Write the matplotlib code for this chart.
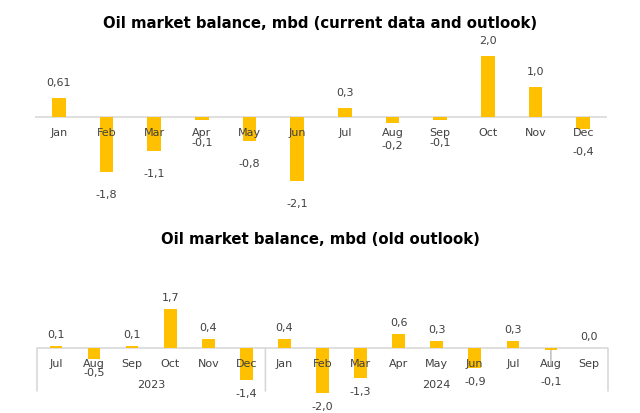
import numpy as np
import matplotlib
matplotlib.use('Agg')
import matplotlib.pyplot as plt

plt.rcParams['font.family'] = ['DejaVu Sans']

# --------- data

top_title = 'Oil market balance, mbd (current data and outlook)'
top_months = ['Jan', 'Feb', 'Mar', 'Apr', 'May', 'Jun', 'Jul', 'Aug', 'Sep', 'Oct', 'Nov', 'Dec']
top_values = [0.61, -1.8, -1.1, -0.1, -0.8, -2.1, 0.3, -0.2, -0.1, 2.0, 1.0, -0.4]
top_labels = ['0,61', '-1,8', '-1,1', '-0,1', '-0,8', '-2,1', '0,3', '-0,2', '-0,1', '2,0', '1,0', '-0,4']

bot_title = 'Oil market balance, mbd (old outlook)'
bot_months = ['Jul', 'Aug', 'Sep', 'Oct', 'Nov', 'Dec',
              'Jan', 'Feb', 'Mar', 'Apr', 'May', 'Jun', 'Jul', 'Aug', 'Sep']
bot_values = [0.1, -0.5, 0.1, 1.7, 0.4, -1.4, 0.4, -2.0, -1.3, 0.6, 0.3, -0.9, 0.3, -0.1, 0.0]
bot_labels = ['0,1', '-0,5', '0,1', '1,7', '0,4', '-1,4', '0,4', '-2,0', '-1,3', '0,6', '0,3', '-0,9', '0,3', '-0,1', '0,0']
years = ['2023', '2024']
year_counts = [6, 9]

# --------- style
bar_color = '#FFC000'
axis_color = '#D9D9D9'
text_color = '#404040'
W, H = 640, 414
PX = 72 / 100  # points per pixel at dpi 100


def px_axes(left, top, right, bottom):
    return [left / W, 1 - bottom / H, (right - left) / W, (bottom - top) / H]


def draw_bars(ax, months, values, labels, width, up_off, down_off, special=None):
    x = np.arange(len(months))
    ax.bar(x, values, width=width, color=bar_color, zorder=2)
    ax.axhline(0, color=axis_color, linewidth=1.2, zorder=1)
    for i, (m, v, lab) in enumerate(zip(months, values, labels)):
        ax.annotate(m, (i, 0), xytext=(0, -15 * PX), textcoords='offset points',
                    ha='center', va='center', fontsize=8, color=text_color, zorder=3)
        if special is not None and i in special:
            # label pushed down with a small leader line
            off = -special[i]
            ax.annotate(lab, (i, v), xytext=(0, off * PX), textcoords='offset points',
                        ha='center', va='center', fontsize=8, color=text_color, zorder=3)
            ax.annotate('', (i, v), xytext=(0, (off + 15) * PX), textcoords='offset points',
                        arrowprops=dict(arrowstyle='-', color='#A6A6A6', lw=0.8,
                                        shrinkA=0, shrinkB=0))
            continue
        off = up_off if v >= 0 else -down_off
        ax.annotate(lab, (i, v), xytext=(0, off * PX), textcoords='offset points',
                    ha='center', va='center', fontsize=8, color=text_color, zorder=3)
    ax.set_xlim(-0.5, len(months) - 0.5)
    ax.axis('off')


fig = plt.figure(figsize=(6.4, 4.14), dpi=100)

# --------- top chart
ax1 = fig.add_axes(px_axes(35, 40, 607, 215))
ax1.set_ylim(-(215 - 118) / 30.5, (118 - 40) / 30.5)
draw_bars(ax1, top_months, top_values, top_labels, 0.29, 16, 22)
fig.text(0.5, 1 - 24 / H, top_title, ha='center', va='center',
         fontsize=10.7, fontweight='bold', color='black')

# --------- bottom chart
ax2 = fig.add_axes(px_axes(37, 255, 608, 414))
ax2.set_ylim(-(414 - 349) / 22.7, (349 - 255) / 22.7)
draw_bars(ax2, bot_months, bot_values, bot_labels, 0.33, 12, 13, special={13: 31})
fig.text(0.5, 1 - 240 / H, bot_title, ha='center', va='center',
         fontsize=10.7, fontweight='bold', color='black')

# year groups with separator lines
edges = np.concatenate([[0], np.cumsum(year_counts)]) - 0.5
for e in edges:
    ax2.annotate('', (e, 0), xytext=(0, -43 * PX), textcoords='offset points',
                 arrowprops=dict(arrowstyle='-', color=axis_color, lw=1.2,
                                 shrinkA=0, shrinkB=0))
for yr, a, b in zip(years, edges[:-1], edges[1:]):
    ax2.annotate(yr, ((a + b) / 2, 0), xytext=(0, -36 * PX), textcoords='offset points',
                 ha='center', va='center', fontsize=8, color=text_color)

fig.savefig('out.png', dpi=100)
